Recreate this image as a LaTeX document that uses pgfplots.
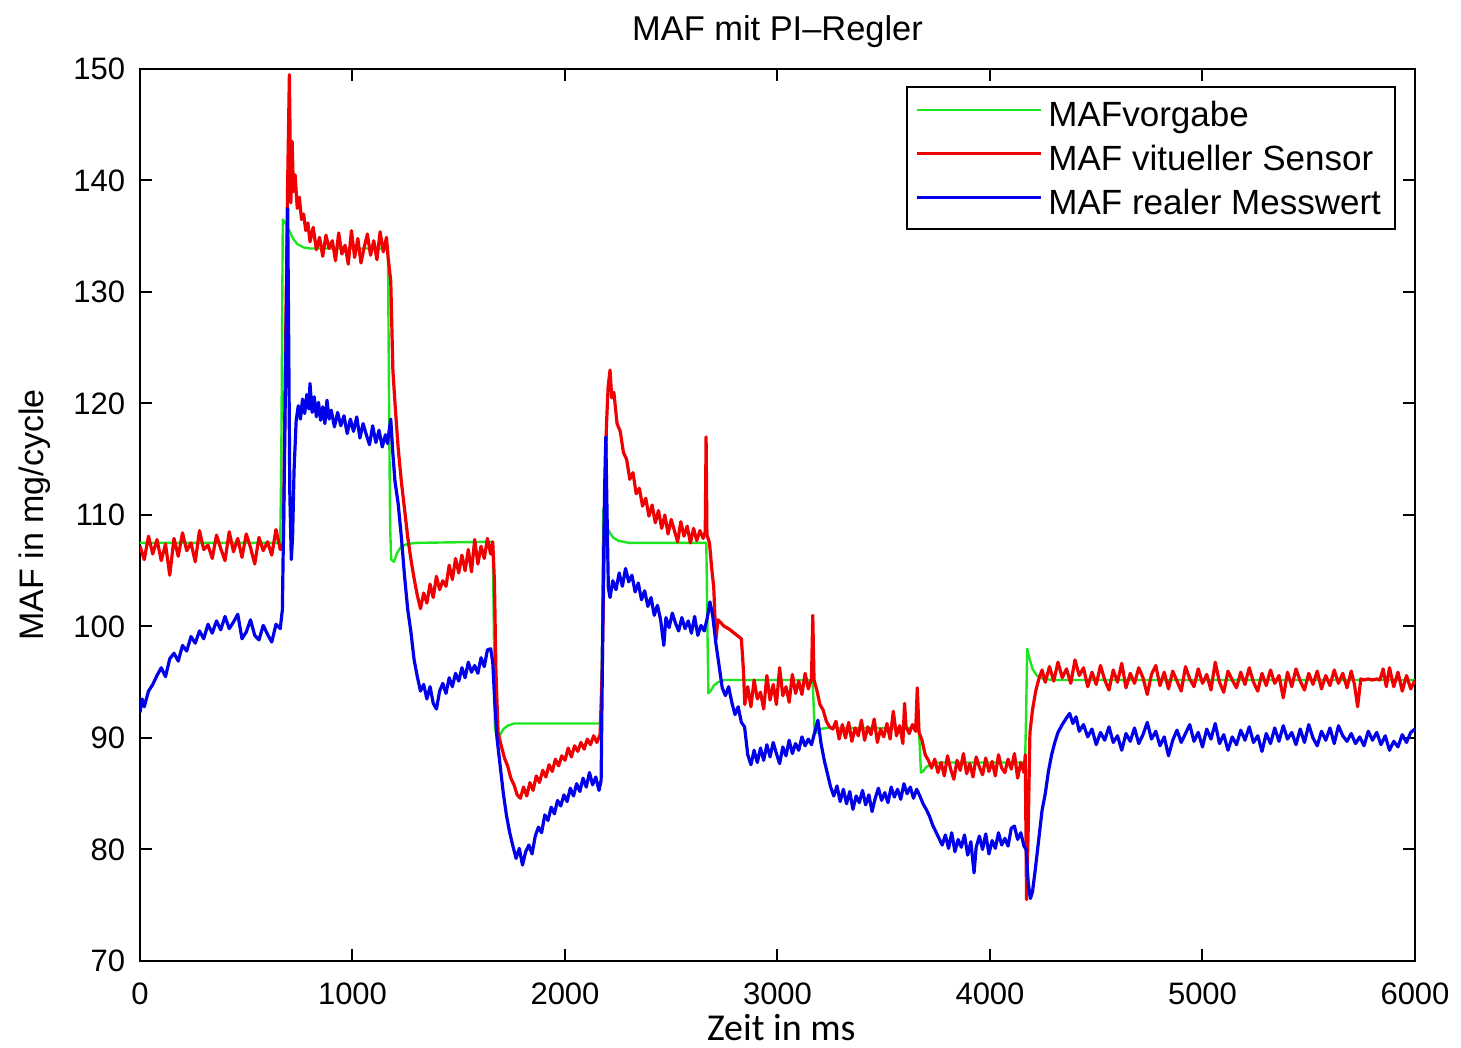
\documentclass[border=0pt]{standalone}
\usepackage{fontspec}
\setmainfont{Liberation Sans}
\newfontfamily\calibri{Carlito}
\usepackage{pgfplots}
\pgfplotsset{compat=1.18}
\definecolor{mgreen}{RGB}{30,230,30}
\definecolor{mred}{RGB}{240,0,0}
\definecolor{mblue}{RGB}{0,0,235}
\begin{document}
\begin{tikzpicture}
\path[use as bounding box] (-35pt,-21.75pt) rectangle (330.25pt,240.25pt);
\begin{axis}[
  at={(0,0)}, anchor=south west,
  scale only axis, width=318.75pt, height=223pt,
  xmin=0, xmax=6000, ymin=70, ymax=150,
  xtick={0,1000,...,6000}, ytick={70,80,...,150},
  scaled x ticks=false, scaled y ticks=false,
  tick align=inside, major tick length=3pt,
  axis line style={line width=0.5pt},
  every tick/.style={black, line width=0.5pt},
  /pgf/number format/assume math mode=true,
  /pgf/number format/1000 sep={},
  tick label style={font=\fontsize{7.75}{9}\selectfont},
  xticklabel style={anchor=base, yshift=-11pt},
  yticklabel style={anchor=east, inner xsep=0pt, xshift=-3.5pt},
  every axis title shift=0pt,
  title={MAF mit PI--Regler},
  title style={at={(axis description cs:0.5,1.0325)}, anchor=base, font=\fontsize{8.6}{10}\selectfont},
  xlabel={Zeit in ms},
  xlabel style={at={(axis description cs:0.503,-0.0892)}, anchor=base, font=\calibri\fontsize{9.5}{11}\selectfont},
  ylabel={MAF in mg/cycle},
  ylabel style={at={(axis description cs:-0.0753,0.5)}, anchor=base, font=\fontsize{8.5}{10}\selectfont},
  legend style={at={(axis description cs:1,1)}, anchor=north east, xshift=-4.75pt, yshift=-4.25pt,
    draw=black, line width=0.5pt, font=\fontsize{8.75}{11}\selectfont,
    inner xsep=2pt, inner ysep=1.2pt,
    nodes={inner xsep=1.5pt, inner ysep=1.5pt, text height=7.2pt, text depth=0.8pt},
    cells={anchor=west}},
  legend image code/.code={\path (0pt,1pt) -- (31pt,1pt);\draw[#1, line width=0.45pt] (4pt,1pt) -- (31pt,1pt);},
]
\addplot[mgreen, line width=0.6pt, line join=round] coordinates {
(0,107.5)(660,107.5)(665,115)(672,136.5)(680,136.3)(700,135.6)(720,134.8)(740,134.3)(770,134.0)(800,133.9)(1167,133.9)(1172,120)(1177,109)(1182,106)(1195,105.8)(1210,106.6)(1230,107.2)(1260,107.4)(1300,107.5)(1660,107.6)(1665,100)(1670,91)(1680,90.0)(1695,90.3)(1710,90.8)(1730,91.1)(1760,91.3)(1800,91.3)(2170,91.3)(2175,100)(2180,110.5)(2190,109.6)(2205,108.6)(2225,108.0)(2250,107.7)(2300,107.5)(2665,107.5)(2670,100)(2675,94.0)(2685,94.2)(2700,94.7)(2720,95.0)(2750,95.2)(3165,95.2)(3170,93)(3175,90.4)(3185,90.5)(3200,90.8)(3230,90.9)(3665,90.9)(3670,89)(3675,86.9)(3685,87.0)(3700,87.4)(3730,87.7)(3760,87.8)(4165,87.8)(4170,92)(4175,98.0)(4185,97.2)(4200,96.2)(4220,95.6)(4250,95.3)(4300,95.2)(6000,95.2)
};
\addlegendentry{MAFvorgabe}
\addplot[mred, line width=0.8pt, line join=round] coordinates {
(0,107.2)(20,106.0)(40,108.1)(60,106.5)(80,107.8)(100,105.9)(120,107.4)(140,104.6)(160,107.9)(180,106.3)(200,108.4)(220,106.8)(240,107.5)(260,105.8)(280,108.6)(300,106.9)(320,107.3)(340,106.1)(360,108.2)(380,107.0)(400,105.9)(420,108.5)(440,106.7)(460,107.9)(480,106.2)(500,108.3)(520,107.1)(540,105.6)(560,108.0)(580,106.8)(600,107.6)(620,106.4)(640,108.7)(660,106.9)(675,107.5)
(685,125)(695,140)(703,149.5)(710,138)(716,143.5)(722,139)(730,140.5)(740,137.5)(750,138.5)(760,136.5)(770,137)(780,135.5)(790,136.2)(800,134.5)(815,135.8)(830,133.8)(845,134.9)(860,133.2)(875,135.1)(890,133.9)(905,134.6)(920,132.8)(935,135.3)(950,133.4)(965,134.2)(980,132.5)(995,135.5)(1010,133.1)(1025,134.8)(1040,132.6)(1055,134.0)(1070,135.2)(1085,133.3)(1100,134.6)(1115,132.9)(1130,135.4)(1145,133.6)(1160,134.9)(1168,133.0)
(1180,131)(1190,123)(1200,120)(1215,116)(1230,113)(1245,110.5)(1260,108)(1275,106)(1290,104.3)(1305,102.8)(1320,101.6)(1335,103.0)(1350,102.1)(1365,103.8)(1380,102.6)(1395,104.5)(1410,103.3)(1425,104.1)(1440,103.6)(1455,105.5)(1470,104.2)(1485,106.1)(1500,104.8)(1515,106.4)(1530,105.0)(1545,106.9)(1560,104.9)(1575,107.8)(1590,105.6)(1605,107.2)(1620,106.1)(1635,107.9)(1650,106.5)(1660,107.6)
(1668,104)(1675,96)(1685,90.5)(1700,89.3)(1715,88.2)(1730,87.5)(1745,86.4)(1760,85.8)(1775,84.9)(1790,84.6)(1805,85.6)(1820,84.8)(1835,86.0)(1850,85.3)(1865,86.6)(1880,86.0)(1895,87.1)(1910,86.5)(1925,87.6)(1940,87.0)(1955,88.1)(1970,87.5)(1985,88.4)(2000,88.0)(2015,89.1)(2030,88.3)(2045,89.3)(2060,88.8)(2075,89.6)(2090,89.0)(2105,89.9)(2120,89.4)(2135,90.2)(2150,89.6)(2165,90.3)
(2175,96)(2185,108)(2195,118)(2203,121.5)(2212,123)(2220,120.5)(2230,121.0)(2245,118.2)(2260,117.5)(2275,115.6)(2290,115.0)(2305,113.2)(2320,113.8)(2335,111.9)(2350,112.4)(2365,110.8)(2380,111.5)(2395,109.9)(2410,110.9)(2425,109.3)(2440,110.4)(2455,108.8)(2470,110.0)(2485,108.3)(2500,109.6)(2515,108.6)(2530,107.6)(2545,109.4)(2560,108.1)(2575,109.0)(2590,107.5)(2605,108.8)(2620,107.7)(2635,108.6)(2650,107.9)(2660,108.5)(2664,117)(2668,108.2)(2680,107.5)(2690,105.3)(2700,103.5)(2710,98.8)(2720,100.6)(2735,100.3)(2750,100.0)(2770,99.8)(2790,99.5)(2810,99.2)(2830,98.9)(2840,96)(2846,93.0)
(2860,94.6)(2875,92.8)(2890,95.2)(2905,93.5)(2920,94.1)(2935,92.6)(2950,95.6)(2965,93.4)(2980,94.8)(2995,93.0)(3010,96.3)(3025,93.8)(3040,94.6)(3055,93.2)(3070,95.7)(3085,94.0)(3100,95.1)(3115,93.9)(3130,95.8)(3145,94.4)(3160,95.3)(3166,101)(3172,95.2)(3185,94.3)(3200,93.0)(3215,92.5)(3230,91.5)(3245,91.0)(3260,90.8)(3275,91.5)(3290,89.9)(3305,91.2)(3320,90.0)(3335,91.4)(3350,89.7)(3365,90.9)(3380,90.2)(3395,91.6)(3410,89.8)(3425,91.0)(3440,90.3)(3455,91.7)(3470,89.6)(3485,90.8)(3500,90.1)(3515,91.3)(3530,89.9)(3545,92.4)(3560,90.2)(3575,91.1)(3590,89.5)(3598,93.1)(3605,91.0)(3620,90.4)(3635,91.2)(3650,90.6)(3658,94.5)(3666,90.5)
(3680,89.8)(3695,88.5)(3710,88.0)(3725,87.3)(3740,88.1)(3755,86.9)(3770,87.8)(3785,86.6)(3800,88.4)(3815,87.2)(3830,86.3)(3845,88.0)(3860,87.1)(3875,88.6)(3890,86.8)(3905,87.7)(3920,86.5)(3935,88.3)(3950,87.4)(3965,86.7)(3980,88.2)(3995,87.0)(4010,87.9)(4025,86.6)(4040,88.5)(4055,87.3)(4070,86.9)(4085,88.1)(4100,87.2)(4115,88.6)(4130,86.4)(4145,87.8)(4160,86.9)(4166,88.5)(4172,75.5)(4180,82)(4188,90.5)(4200,92.5)(4215,94.2)(4230,95.3)(4245,96.1)(4260,95.0)
(4280,96.4)(4300,95.1)(4320,96.8)(4340,95.4)(4360,96.2)(4380,94.9)(4400,97.0)(4420,95.6)(4440,96.3)(4460,94.6)(4480,95.9)(4500,94.8)(4520,96.5)(4540,95.2)(4560,94.3)(4580,96.1)(4600,95.0)(4620,96.7)(4640,94.5)(4660,95.8)(4680,94.9)(4700,96.3)(4720,95.4)(4740,93.9)(4760,95.7)(4780,96.5)(4800,94.7)(4820,95.9)(4840,94.4)(4860,96.0)(4880,95.1)(4900,94.2)(4920,96.4)(4940,95.3)(4960,94.6)(4980,96.2)(5000,94.9)(5020,95.7)(5040,94.3)(5060,96.8)(5080,95.0)(5100,94.1)(5120,96.0)(5140,95.2)(5160,94.5)(5180,95.9)(5200,94.8)(5220,96.3)(5240,95.0)(5260,94.2)(5280,95.8)(5300,94.7)(5320,96.1)(5340,94.9)(5360,95.6)(5380,93.6)(5400,95.9)(5420,94.6)(5440,96.2)(5460,95.1)(5480,94.3)(5500,95.8)(5520,94.8)(5540,96.0)(5560,94.4)(5580,95.6)(5600,94.7)(5620,96.1)(5640,94.9)(5660,95.8)(5680,94.5)(5700,96.0)(5715,94.8)(5730,92.8)(5745,95.3)(5760,95.2)(5780,95.3)(5800,95.2)(5820,95.3)(5835,95.2)(5850,96.2)(5865,94.6)(5880,96.3)(5900,94.6)(5920,95.9)(5940,94.2)(5960,95.6)(5980,94.4)(6000,95.2)
};
\addlegendentry{MAF vitueller Sensor}
\addplot[mblue, line width=0.8pt, line join=round] coordinates {
(0,92.3)(10,93.5)(20,92.8)(40,94.2)(60,94.8)(80,95.6)(100,96.3)(120,95.5)(140,97.1)(160,97.6)(180,96.9)(200,98.3)(220,97.8)(240,99.1)(260,98.5)(280,99.6)(300,98.9)(320,100.2)(340,99.4)(360,100.5)(380,99.7)(400,100.9)(420,99.8)(440,100.4)(460,101.1)(480,98.9)(500,99.5)(520,100.6)(540,99.2)(560,98.8)(580,100.1)(600,99.3)(620,98.6)(640,100.2)(660,99.8)(670,101.5)
(680,115)(690,130)(695,137.5)(700,125)(705,112)(712,106)(718,108)(725,114)(735,118.5)(745,119.8)(755,118.6)(765,120.4)(775,119.1)(785,120.8)(795,119.5)(800,121.8)(810,119.2)(820,120.6)(830,118.8)(840,120.1)(850,118.5)(860,119.7)(870,118.2)(880,120.3)(890,118.6)(900,119.4)(915,117.9)(930,119.2)(945,118.0)(960,118.9)(975,117.3)(990,118.6)(1005,117.5)(1020,118.8)(1035,116.9)(1050,118.2)(1065,117.2)(1080,116.3)(1095,118.0)(1110,116.5)(1125,117.6)(1140,116.1)(1155,117.2)(1165,116.4)(1172,117.5)(1180,118.6)
(1190,115.5)(1200,113)(1215,111)(1230,108)(1245,104.5)(1260,101.5)(1275,99.5)(1290,97)(1305,95.5)(1320,94.2)(1335,94.8)(1350,93.5)(1365,94.6)(1380,93.1)(1395,92.6)(1410,94.2)(1425,94.9)(1440,94.0)(1455,95.4)(1470,94.6)(1485,95.8)(1500,95.1)(1515,96.3)(1530,95.4)(1545,96.8)(1560,95.9)(1575,96.5)(1590,95.8)(1605,97.2)(1620,96.4)(1635,97.9)(1650,98.0)(1660,96.8)
(1670,93)(1680,90)(1695,87.5)(1710,85)(1725,83)(1740,81.5)(1755,80.3)(1770,79.2)(1785,80.1)(1800,78.6)(1815,79.8)(1830,80.4)(1845,79.6)(1860,81.2)(1875,82.0)(1890,81.5)(1905,83.1)(1920,82.6)(1935,83.8)(1950,83.2)(1965,84.4)(1980,83.9)(1995,84.9)(2010,84.3)(2025,85.5)(2040,84.8)(2055,85.9)(2070,85.2)(2085,86.4)(2100,85.6)(2115,86.9)(2130,85.8)(2145,86.5)(2160,85.3)(2170,86.2)
(2178,100)(2186,112)(2192,117)(2198,110)(2204,103.5)(2212,102.6)(2225,104.1)(2240,103.3)(2255,104.8)(2270,103.6)(2285,105.2)(2300,104.0)(2315,104.6)(2330,103.1)(2345,103.9)(2360,102.4)(2375,103.2)(2390,101.8)(2405,102.6)(2420,101.0)(2435,101.9)(2450,100.6)(2465,98.3)(2475,100.8)(2490,99.9)(2505,101.2)(2520,100.3)(2535,99.6)(2550,100.8)(2565,99.8)(2580,100.5)(2595,99.4)(2610,100.9)(2625,99.2)(2640,100.1)(2655,99.6)(2670,100.8)(2682,102.2)
(2695,101.0)(2710,98.5)(2725,96.5)(2740,94.5)(2755,93.8)(2770,94.6)(2785,93.2)(2800,92.1)(2815,92.8)(2830,91.4)(2845,91.0)(2860,88.5)(2875,87.6)(2890,88.9)(2905,87.8)(2920,89.1)(2935,88.0)(2950,89.4)(2965,88.3)(2980,89.6)(2995,88.6)(3010,87.7)(3025,89.2)(3040,88.4)(3055,89.8)(3070,88.6)(3085,89.5)(3100,88.9)(3115,90.1)(3130,89.3)(3145,89.9)(3160,89.4)(3175,90.5)(3190,91.6)
(3205,89.5)(3220,88.0)(3235,86.8)(3250,85.6)(3265,84.8)(3280,85.7)(3295,84.3)(3310,85.4)(3325,84.1)(3340,85.2)(3355,83.6)(3370,84.8)(3385,84.2)(3400,85.3)(3415,84.0)(3430,84.9)(3445,83.4)(3460,84.6)(3475,85.5)(3490,84.4)(3505,85.1)(3520,84.2)(3535,85.6)(3550,84.7)(3565,85.4)(3580,84.5)(3595,85.9)(3610,85.0)(3625,85.6)(3640,84.6)(3655,85.4)(3670,84.8)
(3685,84.1)(3700,83.6)(3715,83.0)(3730,82.2)(3745,81.6)(3760,81.0)(3775,80.4)(3790,81.3)(3805,80.1)(3820,81.5)(3835,79.8)(3850,80.9)(3865,80.2)(3880,81.3)(3895,79.5)(3910,80.7)(3925,77.9)(3935,80.2)(3950,81.2)(3965,80.0)(3980,81.4)(3995,79.6)(4010,80.8)(4025,80.1)(4040,81.5)(4055,80.4)(4070,81.0)(4085,80.3)(4100,81.9)(4115,82.1)(4130,80.9)(4145,81.5)(4160,80.3)(4170,80.0)
(4180,77.0)(4190,75.6)(4200,76.2)(4215,78.5)(4230,81.0)(4245,83.5)(4260,85.0)(4275,87.0)(4290,88.5)(4305,89.6)(4320,90.5)(4340,91.2)(4360,91.8)(4375,92.2)(4390,91.3)(4405,91.9)(4420,90.6)(4440,91.2)
(4460,90.1)(4480,90.8)(4500,89.4)(4520,90.5)(4540,89.8)(4560,91.0)(4580,89.6)(4600,90.2)(4620,88.9)(4640,90.4)(4660,89.7)(4680,90.9)(4700,89.5)(4720,90.3)(4740,91.4)(4760,89.9)(4780,90.6)(4800,89.3)(4820,90.1)(4840,88.4)(4860,89.8)(4880,90.7)(4900,89.6)(4920,90.4)(4940,91.2)(4960,89.7)(4980,90.5)(5000,89.2)(5020,90.8)(5040,89.9)(5060,91.3)(5080,89.5)(5100,90.3)(5120,88.9)(5140,90.1)(5160,89.4)(5180,90.7)(5200,89.8)(5220,91.0)(5240,89.6)(5260,90.2)(5280,88.8)(5300,90.4)(5320,89.5)(5340,90.9)(5360,89.7)(5380,91.1)(5400,89.9)(5420,90.5)(5440,89.4)(5460,90.8)(5480,89.6)(5500,91.2)(5520,90.0)(5540,89.3)(5560,90.6)(5580,89.8)(5600,90.9)(5620,89.5)(5640,91.1)(5660,90.2)(5680,89.7)(5700,90.4)(5720,89.5)(5740,90.1)(5760,89.3)(5780,90.6)(5800,89.8)(5820,90.5)(5840,89.4)(5860,90.2)(5880,88.9)(5900,89.7)(5920,89.2)(5940,90.3)(5960,89.6)(5980,90.5)(6000,90.8)
};
\addlegendentry{MAF realer Messwert}
\end{axis}
\end{tikzpicture}
\end{document}
